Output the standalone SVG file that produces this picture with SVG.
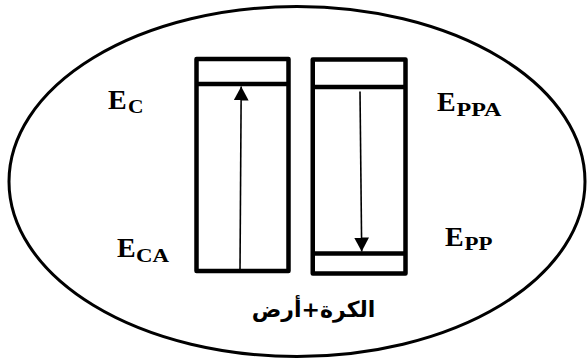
<svg xmlns="http://www.w3.org/2000/svg" width="588" height="360" viewBox="0 0 588 360">
<style>
.box{fill:none;stroke:#000;stroke-width:4.5;stroke-linejoin:round}
.lvl{stroke:#000;stroke-width:4.5}
.arr{stroke:#000;stroke-width:1.6;fill:none}
.E{font-family:"Liberation Serif","Times New Roman",serif;font-weight:bold;font-size:28px;fill:#000}
.s{font-family:"Liberation Serif","Times New Roman",serif;font-weight:bold;font-size:18px;fill:#000}
.ar{font-family:"DejaVu Sans","Noto Sans",sans-serif;font-weight:bold;font-size:22px;fill:#000}
</style>
<defs>
<marker id="ah" markerUnits="userSpaceOnUse" markerWidth="15" markerHeight="15" refX="14" refY="7.5" orient="auto" viewBox="0 0 15 15">
<path d="M0,0 L14,7.5 L0,15 z" fill="#000"/>
</marker>
</defs>
<rect width="588" height="360" fill="#fff"/>
<g id="system">
<ellipse cx="297" cy="181.5" rx="288" ry="175" fill="none" stroke="#000" stroke-width="3"/>
</g>
<g id="column-left">
<rect class="box" x="196.5" y="59" width="92" height="212"/>
<line class="lvl" x1="196.5" y1="84" x2="288.5" y2="84"/>
</g>
<g id="column-right">
<rect class="box" x="312.75" y="59.5" width="92.75" height="214"/>
<line class="lvl" x1="312.75" y1="87" x2="405.5" y2="87"/>
<line class="lvl" x1="312.75" y1="253.5" x2="405.5" y2="253.5"/>
</g>
<g id="connectors">
<line class="arr" x1="240" y1="271" x2="241.2" y2="86.5" marker-end="url(#ah)"/>
<line class="arr" x1="360" y1="91.5" x2="361.7" y2="251.5" marker-end="url(#ah)"/>
</g>
<g id="label-EC">
<text class="E" x="108" y="109">E</text>
<text class="s" x="128" y="113" textLength="15.5" lengthAdjust="spacingAndGlyphs">C</text>
</g>
<g id="label-EPPA">
<text class="E" x="437" y="111">E</text>
<text class="s" x="456.5" y="116" textLength="45" lengthAdjust="spacingAndGlyphs">PPA</text>
</g>
<g id="label-ECA">
<text class="E" x="117" y="257">E</text>
<text class="s" x="136" y="262" textLength="33" lengthAdjust="spacingAndGlyphs">CA</text>
</g>
<g id="label-EPP">
<text class="E" x="445" y="246">E</text>
<text class="s" x="464.5" y="250" textLength="28" lengthAdjust="spacingAndGlyphs">PP</text>
</g>
<g id="label-system">
<text class="ar" x="313.5" y="317" text-anchor="middle" direction="rtl">الكرة+أرض</text>
</g>
</svg>
